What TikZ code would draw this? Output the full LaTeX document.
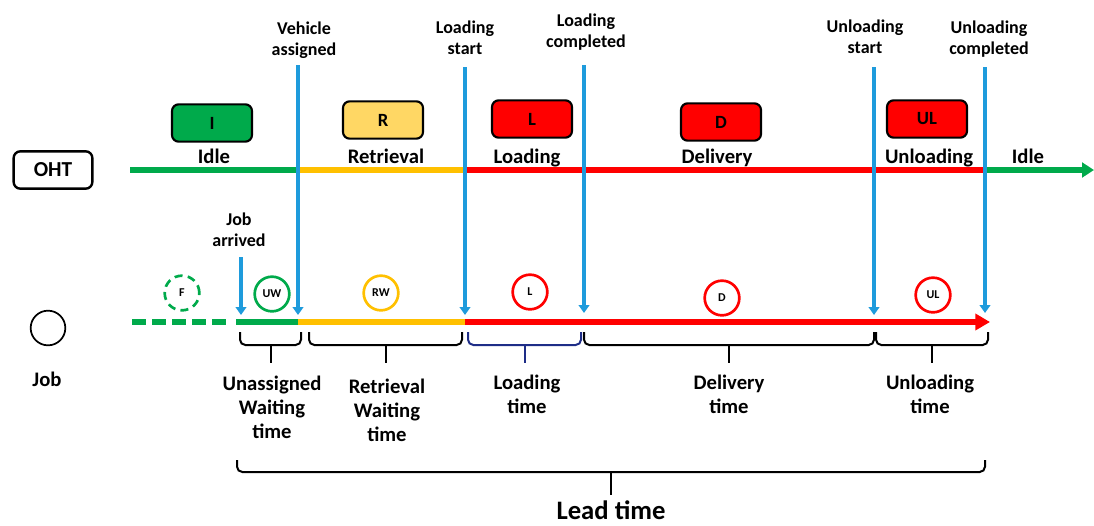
\documentclass[tikz,border=0pt]{standalone}
\usepackage{fontspec}
\setmainfont{Carlito}
\usetikzlibrary{arrows.meta}

\definecolor{ohtgreen}{RGB}{0,170,75}
\definecolor{ohtyellow}{RGB}{255,192,0}
\definecolor{boxyellow}{RGB}{255,215,100}
\definecolor{ohtred}{RGB}{255,0,0}
\definecolor{evblue}{RGB}{30,155,220}
\definecolor{bracenavy}{RGB}{30,45,135}

\tikzset{
    statebox/.style={draw=black, line width=1.6pt, rounded corners=5pt, minimum width=60pt, minimum height=28pt, font=\bfseries\fontsize{14}{14}\selectfont},
    jobstate/.style={circle, line width=2pt, minimum size=26pt, inner sep=0pt, font=\bfseries\fontsize{9}{9}\selectfont},
    timeline/.style={line width=4pt},
    event/.style={evblue, line width=3.5pt, -{Triangle[length=6pt,width=8pt]}},
    evlabel/.style={align=center, font=\bfseries\fontsize{13.5}{15.75}\selectfont},
    phase/.style={anchor=base, font=\bfseries\fontsize{15.5}{16}\selectfont},
    span/.style={align=center, font=\bfseries\fontsize{15.5}{18}\selectfont},
    tbrace/.style={line width=1.5pt, rounded corners=4pt},
}

\begin{document}
\begin{tikzpicture}[x=0.75pt, y=-0.75pt]
    \useasboundingbox (0,0) rectangle (1094,525);

    \node[draw, line width=1.8pt, rounded corners=5pt, minimum width=59pt, minimum height=28pt, font=\bfseries\fontsize{16}{16}\selectfont] (OHT) at (53,170) {OHT};
    \node[circle, draw, line width=1.3pt, minimum size=26pt] (J) at (48,328) {};
    \node[font=\bfseries\fontsize{15.5}{16}\selectfont] (Jl) at (47,379) {Job};

    % OHT states
    \coordinate (o0) at (130,170);
    \coordinate (o1) at (298,170);
    \coordinate (o2) at (465,170);
    \coordinate (o3) at (985,170);
    \coordinate (o4) at (1094,170);

    \draw[timeline, ohtgreen] (o0) -- (o1);
    \draw[timeline, ohtyellow] (o1) -- (o2);
    \draw[timeline, ohtred] (o2) -- (o3);
    \draw[timeline, ohtgreen, -{Triangle[length=9pt,width=11pt]}] (o3) -- (o4);

    \node[statebox, fill=ohtgreen] (I) at (212,123) {I};
    \node[statebox, fill=boxyellow] (R) at (383,120) {R};
    \node[statebox, fill=ohtred] (L) at (532,119) {L};
    \node[statebox, fill=ohtred] (D) at (721,122) {D};
    \node[statebox, fill=ohtred] (UL) at (927,119) {UL};

    \node[phase] (Il) at (214,163) {Idle};
    \node[phase] (Rl) at (386,163) {Retrieval};
    \node[phase] (Ll) at (527,163) {Loading};
    \node[phase] (Dl) at (717,163) {Delivery};
    \node[phase] (ULl) at (929,163) {Unloading};
    \node[phase] (I2l) at (1028,163) {Idle};

    % job states
    \coordinate (j0) at (132,322);
    \coordinate (j1) at (230,322);
    \coordinate (j2) at (236,322);
    \coordinate (j3) at (298,322);
    \coordinate (j4) at (465,322);
    \coordinate (j5) at (990,322);

    \draw[timeline, ohtgreen, dash pattern=on 10.5pt off 4.5pt] (j0) -- (j1);
    \draw[timeline, ohtgreen] (j2) -- (j3);
    \draw[timeline, ohtyellow] (j3) -- (j4);
    \draw[timeline, ohtred, -{Triangle[length=11pt,width=12pt]}] (j4) -- (j5);

    \node[jobstate, draw=ohtgreen, dash pattern=on 6pt off 4pt] (F) at (182,293) {F};
    \node[jobstate, draw=ohtgreen] (UW) at (272,294) {UW};
    \node[jobstate, draw=ohtyellow] (RW) at (381,293) {RW};
    \node[jobstate, draw=ohtred] (Lc) at (530,292) {L};
    \node[jobstate, draw=ohtred] (Dc) at (722,298) {D};
    \node[jobstate, draw=ohtred] (ULc) at (933,295) {UL};

    % events
    \node[evlabel] (VA) at (304,40) {Vehicle\\assigned};
    \node[evlabel] (LS) at (465,38) {Loading\\start};
    \node[evlabel] (LC) at (586,32) {Loading\\completed};
    \node[evlabel] (US) at (865,37) {Unloading\\start};
    \node[evlabel] (UC) at (989,39) {Unloading\\completed};
    \node[evlabel] (JA) at (239,230) {Job\\arrived};

    \coordinate (va1) at (298,65);
    \coordinate (va2) at (298,315);
    \coordinate (ls1) at (465,67);
    \coordinate (ls2) at (465,315);
    \coordinate (lc1) at (584,65);
    \coordinate (lc2) at (584,313);
    \coordinate (us1) at (874,67);
    \coordinate (us2) at (874,315);
    \coordinate (uc1) at (985,67);
    \coordinate (uc2) at (985,313);
    \coordinate (ja1) at (241,257);
    \coordinate (ja2) at (241,315);

    \draw[event] (va1) -- (va2);
    \draw[event] (ls1) -- (ls2);
    \draw[event] (lc1) -- (lc2);
    \draw[event] (us1) -- (us2);
    \draw[event] (uc1) -- (uc2);
    \draw[event] (ja1) -- (ja2);

    % time spans
    \draw[tbrace] (240,332) -- (240,345) -- (301,345) -- (301,332);
    \draw[tbrace] (270.5,345) -- (270.5,363);
    \draw[tbrace] (309,332) -- (309,345) -- (462,345) -- (462,332);
    \draw[tbrace] (385.5,345) -- (385.5,363);
    \draw[tbrace, bracenavy] (468,332) -- (468,345) -- (581,345) -- (581,332);
    \draw[tbrace, bracenavy] (524.5,345) -- (524.5,363);
    \draw[tbrace] (584,332) -- (584,345) -- (874,345) -- (874,332);
    \draw[tbrace] (729,345) -- (729,363);
    \draw[tbrace] (876,332) -- (876,345) -- (988,345) -- (988,332);
    \draw[tbrace] (932,345) -- (932,363);
    \draw[tbrace] (237,460) -- (237,472) -- (985,472) -- (985,460);
    \draw[tbrace] (611,472) -- (611,495);

    \node[span] (UWt) at (272,407) {Unassigned\\Waiting\\time};
    \node[span] (RWt) at (387,410) {Retrieval\\Waiting\\time};
    \node[span] (Lt) at (527,394) {Loading\\time};
    \node[span] (Dt) at (729,394) {Delivery\\time};
    \node[span] (ULt) at (930,394) {Unloading\\time};
    \node[font=\bfseries\fontsize{20}{20}\selectfont, inner sep=1pt] (LT) at (611,510) {Lead time};

\end{tikzpicture}
\end{document}
